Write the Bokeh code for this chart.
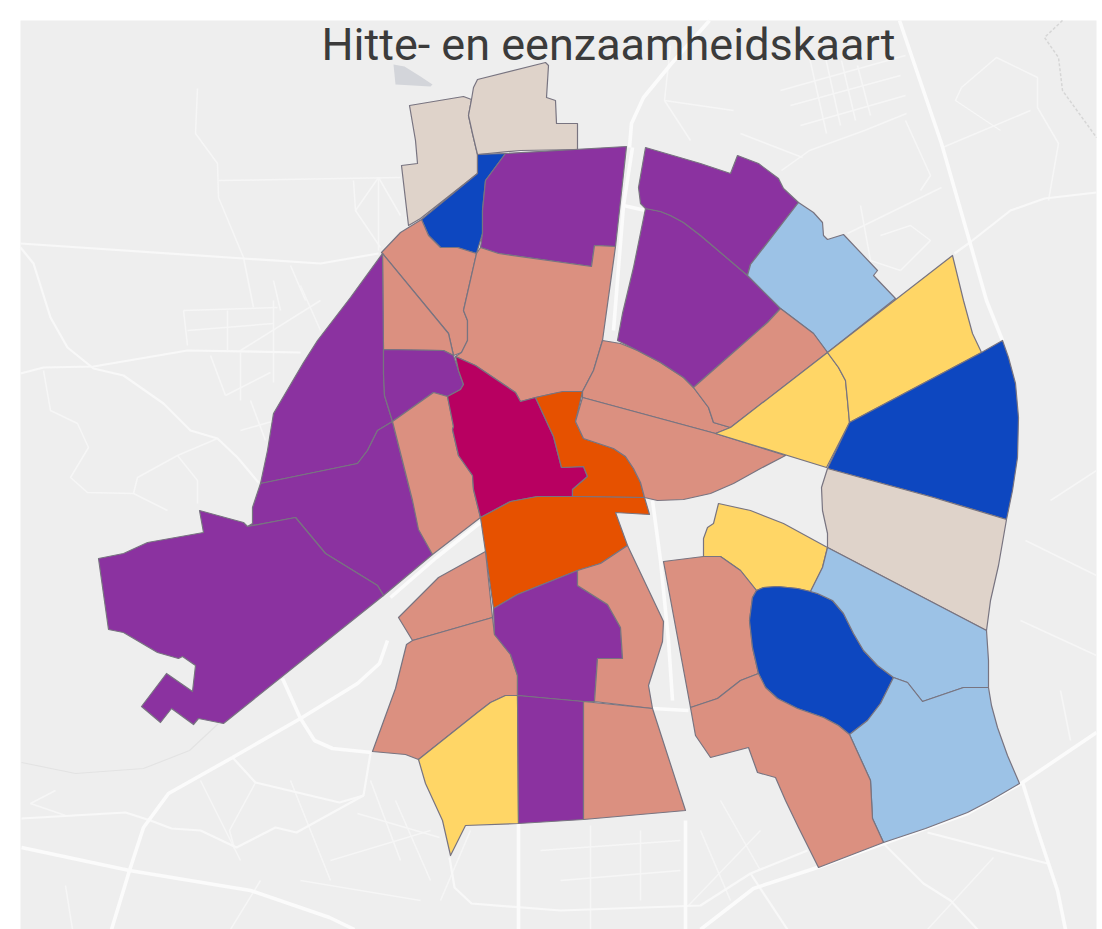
from bokeh.plotting import figure
from bokeh.models import Range1d, Label
from bokeh.embed import file_html
from bokeh.resources import INLINE

TITLE = "Hitte- en eenzaamheidskaart"
PURPLE, SALMON, MAGENTA, ORANGE = "#8b32a0", "#db9080", "#b80061", "#e65100"
BLUE, LIGHTBLUE, YELLOW, BEIGE = "#0d47c0", "#9cc2e6", "#ffd666", "#dfd3ca"

oval_right = [(893,677),(877,665),(863,650),(853,633),(843,613),(832,600),(817,593),(810,591)]
oval_top = [(810,591),(797,588),(777,586),(763,587),(756,590)]
oval_left = [(756,590),(752,597),(749,620),(752,647),(758,673)]
oval_low = [(758,673),(765,687),(777,698),(797,708),(823,717),(838,725),(849,734)]
oval_lowright = [(849,734),(867,720),(880,703),(893,677)]
lens_low = [(785,455),(760,468),(733,483),(710,493),(683,499),(657,500),(644,497)]
orange_curve = [(575,421),(583,438),(613,448),(625,456),(633,468),(640,482),(644,497)]
arc_ne = [(645,208),(660,211),(670,215),(683,222),(700,235),(720,252),(747,275)]
se_split = [(893,677),(907,682),(922,701),(963,687),(988,687)]

nw_beige_left = [(409,105),(463,96),(471,99),(468,115),(472,133),(477,154),(477,173),(420,218),(408,225),(401,165),(417,163),(415,140)]
nw_beige_right = [(477,79),(545,62),(548,65),(546,97),(555,100),(556,123),(577,123),(577,149),(520,150),(477,154),(472,133),(468,115),(471,99),(473,87)]
nw_blue = [(477,154),(505,153),(485,180),(482,210),(482,233),(476,253),(457,247),(440,247),(428,235),(421,219),(477,173)]
n_purple = [(505,153),(626,146),(615,246),(594,245),(591,266),(498,253),(480,247),(482,233),(482,210),(485,180)]
nw_salmon = [(381,252),(400,232),(421,219),(428,235),(440,247),(457,247),(476,253),(463,310),(467,320),(467,340),(461,352),(453,355),(448,333),(382,253)]
w_salmon_tri = [(382,253),(448,333),(453,355),(443,350),(383,349)]
n_salmon = [(476,253),(480,247),(498,253),(591,266),(594,245),(615,246),(602,340),(593,370),(582,391),(570,391),(553,393),(535,397),(520,401),(515,392),(475,365),(455,356),(461,352),(467,340),(467,320),(463,310)]
w_purple_up = [(382,253),(350,297),(317,340),(303,362),(273,413),(267,450),(260,483),(357,463),(367,450),(377,430),(392,421),(384,395),(383,373),(383,349)]
w_purple_low = [(260,483),(357,463),(367,450),(377,430),(392,421),(412,500),(420,530),(432,554),(383,595),(377,585),(325,553),(295,517),(247,526),(252,523),(252,507)]
far_w_purple = [(98,558),(123,553),(147,542),(203,532),(199,510),(243,522),(247,526),(295,517),(325,553),(377,585),(383,595),(223,723),(198,718),(193,724),(171,708),(160,722),(141,706),(166,673),(192,691),(195,665),(182,656),(178,658),(157,652),(123,632),(108,629)]
w_purple_small = [(383,349),(443,350),(453,355),(458,370),(463,384),(460,389),(447,396),(433,392),(392,421),(384,395),(383,373)]
w_salmon_low = [(392,421),(433,392),(447,396),(453,426),(452,429),(458,455),(472,475),(473,489),(480,517),(432,554),(418,529),(412,500)]
center_magenta = [(455,356),(475,365),(515,392),(520,401),(535,397),(553,436),(561,467),(583,466),(587,476),(572,489),(572,496),(537,496),(510,501),(480,517),(473,489),(472,475),(458,455),(452,429),(453,426),(447,396),(460,389),(463,384),(458,370)]
center_orange_up = [(535,397),(562,391),(582,391)] + orange_curve + [(572,496),(572,489),(587,476),(583,466),(561,467),(553,436)]
center_orange_low = [(480,517),(510,501),(537,496),(572,496),(644,497),(649,514),(615,512),(627,545),(600,563),(577,570),(517,594),(493,608),(485,551)]
ne_lens_up = [(602,340),(620,343),(637,350),(660,362),(683,377),(693,387),(708,407),(713,422),(730,427),(715,433),(582,397),(582,391),(593,370)]
e_lens = [(582,397),(715,433),(785,455)] + lens_low[1:] + orange_curve[::-1][1:]
ne_purple_low = arc_ne[:-1] + [(747,275),(780,308),(767,322),(693,387),(683,377),(660,362),(637,350),(617,340),(622,313),(633,267)]
ne_purple_up = [(645,147),(700,163),(730,173),(737,155),(758,163),(778,178),(783,188),(798,202),(750,264),(747,275)] + arc_ne[::-1][1:] + [(640,203),(638,187)]
ne_lightblue = [(798,202),(813,212),(822,222),(823,235),(827,239),(843,234),(877,270),(873,275),(895,298),(827,352),(813,333),(780,308),(747,275),(750,264)]
ne_salmon = [(780,308),(813,333),(827,352),(730,427),(713,422),(708,407),(693,387),(767,322)]
e_yellow_small = [(827,352),(838,367),(845,380),(847,400),(849,422),(826,467),(715,433),(730,427)]
e_yellow_top = [(952,255),(963,300),(972,333),(981,352),(849,422),(847,400),(845,380),(838,367),(827,352)]
e_blue = [(1002,340),(1008,357),(1015,383),(1018,417),(1017,457),(1012,490),(1006,519),(933,497),(827,468),(849,422),(981,352)]
e_beige = [(827,468),(933,497),(1006,519),(998,565),(990,600),(986,630),(827,547),(827,533),(822,510),(821,487)]
se_yellow = [(718,503),(750,510),(783,523),(827,547),(822,567),(810,591)] + oval_top[1:] + [(740,570),(720,556),(703,556),(703,538),(707,527),(713,523)]
se_salmon_up = [(663,561),(703,556),(720,556),(740,570)] + oval_left + [(740,680),(717,698),(690,707)]
se_blue = oval_right + oval_top[1:] + oval_left[1:] + oval_low[1:] + oval_lowright[1:-1]
se_lightblue_up = [(827,547),(986,630),(988,660)] + se_split[::-1] + oval_right[1:] + [(822,567)]
se_lightblue_low = se_split + [(991,705),(997,727),(1007,755),(1019,783),(990,800),(967,812),(925,828),(883,842),(872,818),(870,780),(849,734)] + oval_lowright[1:-1]
se_salmon_low = [(690,707),(717,698),(740,680)] + oval_low + [(870,780),(872,818),(883,842),(818,867),(798,827),(785,800),(775,777),(757,772),(748,747),(710,757),(695,735)]
sw_salmon_up = [(398,617),(438,577),(485,551),(492,617),(412,640)]
sw_salmon_low = [(412,640),(492,617),(494,634),(510,654),(517,675),(517,695),(505,695),(490,702),(477,712),(418,759),(405,754),(372,751),(395,688),(406,644)]
sw_yellow = [(517,695),(518,823),(465,825),(450,855),(442,820),(425,783),(418,759),(477,712),(490,702),(505,695)]
s_purple_up = [(577,570),(577,585),(607,604),(620,627),(622,658),(597,658),(594,701),(583,701),(517,695),(517,675),(510,654),(494,634),(493,608),(517,594)]
s_salmon_right = [(627,545),(663,621),(662,641),(648,685),(652,708),(594,701),(597,658),(622,658),(620,627),(607,604),(577,585),(577,570),(600,563)]
s_purple_col = [(517,695),(583,701),(583,819),(518,823)]
s_salmon = [(583,701),(652,708),(685,810),(583,819)]

areas = [
    (nw_beige_left, BEIGE), (nw_beige_right, BEIGE), (nw_blue, BLUE), (n_purple, PURPLE),
    (nw_salmon, SALMON), (w_salmon_tri, SALMON), (n_salmon, SALMON), (w_purple_up, PURPLE),
    (w_purple_low, PURPLE), (far_w_purple, PURPLE), (w_purple_small, PURPLE), (w_salmon_low, SALMON),
    (center_magenta, MAGENTA), (center_orange_up, ORANGE), (center_orange_low, ORANGE),
    (ne_lens_up, SALMON), (e_lens, SALMON), (ne_purple_low, PURPLE), (ne_purple_up, PURPLE),
    (ne_lightblue, LIGHTBLUE), (ne_salmon, SALMON), (e_yellow_small, YELLOW), (e_yellow_top, YELLOW),
    (e_blue, BLUE), (e_beige, BEIGE), (se_yellow, YELLOW), (se_salmon_up, SALMON), (se_blue, BLUE),
    (se_lightblue_up, LIGHTBLUE), (se_lightblue_low, LIGHTBLUE), (se_salmon_low, SALMON),
    (sw_salmon_up, SALMON), (sw_salmon_low, SALMON), (sw_yellow, YELLOW), (s_purple_up, PURPLE),
    (s_salmon_right, SALMON), (s_purple_col, PURPLE), (s_salmon, SALMON),
]

major_roads = [
    [(899,20),(941,143),(968,237),(986,300),(1002,340)],
    [(1022,782),(1037,830),(1057,890),(1065,929)],
    [(21,847),(129,870),(250,890),(329,917),(354,929)],
    [(111,929),(129,870),(143,827),(168,793),(232,757),(300,718),(357,683),(379,663),(387,640)],
    [(1096,732),(1022,782),(967,813),(883,843),(817,867),(753,888),(700,929)],
    [(629,147),(631,123),(643,97),(671,63),(709,20)],
    [(632,147),(623,205),(613,330)],
    [(623,205),(645,210)],
    [(480,522),(436,557),(390,597)],
    [(652,500),(660,560),(668,640),(672,700)],
    [(652,708),(688,710)],
    [(518,823),(518,929)],
    [(685,820),(685,929)],
    [(282,678),(300,718),(314,740),(332,748),(371,752)],
]
medium_roads = [
    [(20,243),(243,258),(320,263),(378,253)],
    [(20,373),(43,367),(93,366),(187,350),(300,352)],
    [(20,247),(33,263),(50,317),(67,347),(93,368),(123,375),(163,403),(190,430),(217,438),(237,457),(258,482)],
    [(954,253),(968,243),(1010,210),(1044,198),(1096,192)],
    [(449,857),(454,887),(471,903),(560,910),(700,905),(750,873),(807,850)],
    [(232,757),(255,782),(339,802),(363,795),(370,753)],
    [(363,795),(296,832),(275,827),(236,847),(200,830),(171,828),(150,820),(125,812),(21,818)],
    [(750,873),(787,929)],
    [(883,843),(923,883),(950,900),(977,929)],
    [(927,832),(1047,863)],
]
minor_roads = [
    [(197,88),(195,133),(217,163),(218,197),(243,257),(253,307)],
    [(218,180),(400,177)],[(353,180),(355,210),(380,247)],[(378,177),(355,210)],[(378,177),(378,250)],[(378,177),(400,215)],
    [(43,370),(50,410),(77,423),(88,447),(70,477),(87,492),(133,493),(167,510)],
    [(133,493),(137,477),(177,455),(217,438)],[(177,455),(197,480),(197,503)],
    [(183,310),(277,307)],[(187,330),(273,323)],[(183,310),(187,345)],[(227,310),(227,350)],[(273,300),(273,382)],
    [(210,355),(225,395)],[(240,352),(240,400)],[(300,285),(320,330)],[(273,280),(280,310)],[(290,265),(305,300)],
    [(240,350),(320,300)],[(225,395),(270,372)],[(250,400),(265,440)],[(240,430),(275,420)],
    [(255,782),(229,830),(234,848)],[(357,813),(439,837)],
    [(847,233),(941,187)],[(942,147),(1030,110)],[(781,170),(809,150),(864,130),(906,113)],
    [(664,100),(733,110)],[(740,133),(802,157)],[(670,45),(664,100),(690,140)],
    [(809,57),(826,133)],[(825,57),(840,125)],[(841,60),(855,120)],[(857,65),(870,115)],[(780,90),(905,55)],[(790,105),(900,75)],[(800,125),(905,95)],
    [(961,87),(996,57),(1037,77),(1037,107),(1058,143),(1048,200)],[(961,87),(955,100),(1000,130)],
    [(905,120),(930,175),(920,190)],[(860,205),(870,260),(900,270)],[(880,235),(910,225),(930,240),(900,270)],
    [(1050,500),(1096,470)],[(1025,540),(1096,575)],[(1020,620),(1096,655)],[(1060,690),(1070,740)],
    [(927,929),(993,857)],[(688,905),(760,830)],[(700,830),(730,900)],[(720,800),(760,870)],
    [(540,850),(680,840)],[(590,825),(590,929)],[(640,830),(640,900)],[(560,880),(680,870)],
    [(470,830),(440,900)],[(395,800),(430,880)],[(330,860),(430,830)],[(300,880),(420,900)],[(230,929),(260,880)],
    [(200,780),(240,860)],[(290,780),(330,880)],[(370,780),(400,860)],
    [(55,790),(30,803),(65,815)],[(65,885),(72,929)],
]
river_x = [21,75,143,189,218]
river_y = [762,773,768,750,723]
rail_x = [1062,1044,1058,1062,1096]
rail_y = [20,37,57,90,137]
water_x = [393,404,420,432,430,395]
water_y = [64,66,76,84,86,84]

fig = figure(width=1102, height=929, x_range=Range1d(0, 1102), y_range=Range1d(929, 0),
             output_backend="svg", toolbar_location=None, min_border=0,
             background_fill_color="white", border_fill_color="white", outline_line_color=None)
fig.axis.visible = False
fig.grid.visible = False

fig.quad(left=[20], right=[1096], top=[20], bottom=[929], fill_color="#eeeeee", line_color=None)
fig.patch(water_x, water_y, fill_color="#d3d5da", line_color=None)
fig.line(river_x, river_y, line_color="#e3e3e3", line_width=1.2)
fig.line(rail_x, rail_y, line_color="#d6d6d6", line_width=1.5, line_dash="3 2")
fig.multi_line([[q[0] for q in r] for r in minor_roads], [[q[1] for q in r] for r in minor_roads],
               line_color="#f6f6f6", line_width=1.5)
fig.multi_line([[q[0] for q in r] for r in medium_roads], [[q[1] for q in r] for r in medium_roads],
               line_color="#f8f8f8", line_width=2.2)
fig.multi_line([[q[0] for q in r] for r in major_roads], [[q[1] for q in r] for r in major_roads],
               line_color="#fbfbfb", line_width=3.6)

fig.patches([[q[0] for q in a] for a, _ in areas], [[q[1] for q in a] for a, _ in areas],
            fill_color=[c for _, c in areas], line_color="#787480", line_width=1.2, line_join="round")

fig.add_layout(Label(x=608, y=44, text=TITLE, text_font="Roboto", text_font_size="45px",
                     text_color="#3b3b3b", text_align="center", text_baseline="alphabetic"))

open("out.html", "w").write(file_html(fig, INLINE))
